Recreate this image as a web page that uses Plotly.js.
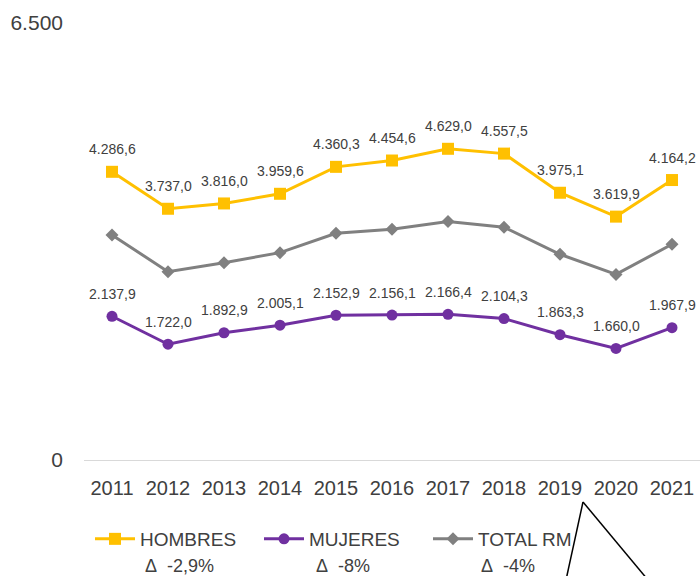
<!DOCTYPE html>
<html>
<head>
<meta charset="utf-8">
<script src="https://cdn.plot.ly/plotly-3.0.1.min.js"></script>
<style>html,body{margin:0;padding:0;background:#fff;}#chart{width:700px;height:576px;}</style>
</head>
<body>
<div id="chart"></div>
<script>
const years = ['2011','2012','2013','2014','2015','2016','2017','2018','2019','2020','2021'];
const hombres = [4286.6, 3737.0, 3816.0, 3959.6, 4360.3, 4454.6, 4629.0, 4557.5, 3975.1, 3619.9, 4164.2];
const mujeres = [2137.9, 1722.0, 1892.9, 2005.1, 2152.9, 2156.1, 2166.4, 2104.3, 1863.3, 1660.0, 1967.9];
const totalRM = [3348, 2800, 2934, 3084, 3373, 3433, 3546, 3463, 3060, 2761, 3209];
const seriesNames = ['HOMBRES', 'MUJERES', 'TOTAL RM'];
const deltaLabels = ['Δ\u00a0\u00a0-2,9%', 'Δ\u00a0\u00a0-8%', 'Δ\u00a0\u00a0-4%'];
const yTicks = [0, 6500];

const FONT = 'Liberation Sans, Arial, sans-serif';
const TXT = '#404040';

function fmt(v){
  const s = v.toFixed(1).split('.');
  return s[0].replace(/\B(?=(\d{3})+(?!\d))/g, '.') + ',' + s[1];
}

const traces = [
  {x: years, y: hombres, name: seriesNames[0], type: 'scatter', mode: 'lines+markers',
   line: {color: '#FFC000', width: 3}, marker: {symbol: 'square', size: 12, color: '#FFC000'}},
  {x: years, y: mujeres, name: seriesNames[1], type: 'scatter', mode: 'lines+markers',
   line: {color: '#7030A0', width: 3}, marker: {symbol: 'circle', size: 11, color: '#7030A0'}},
  {x: years, y: totalRM, name: seriesNames[2], type: 'scatter', mode: 'lines+markers',
   line: {color: '#808080', width: 3}, marker: {symbol: 'diamond', size: 10, color: '#808080'}}
];

const annotations = [];
[hombres, mujeres].forEach(arr => {
  arr.forEach((v, i) => {
    annotations.push({x: i, y: v, xref: 'x', yref: 'y', text: fmt(v), showarrow: false,
      yshift: 22.5, font: {family: FONT, size: 14, color: TXT}});
  });
});
const deltaX = [143, 314, 479];
deltaLabels.forEach((t, i) => {
  annotations.push({xref: 'paper', yref: 'paper', x: (deltaX[i] - 84) / 616, y: (460 - 566) / 437,
    xanchor: 'left', yanchor: 'middle', text: t, showarrow: false,
    font: {family: FONT, size: 18, color: TXT}});
});

const layout = {
  width: 700, height: 576,
  margin: {l: 84, r: 0, t: 23, b: 116},
  paper_bgcolor: '#fff', plot_bgcolor: '#fff',
  separators: ',.',
  showlegend: true,
  font: {family: FONT, color: TXT},
  xaxis: {type: 'category', range: [-0.5, 10.5], showgrid: false, zeroline: false, showline: false,
    ticks: '', ticklabelstandoff: 14, tickfont: {family: FONT, size: 20, color: TXT}, fixedrange: true},
  yaxis: {range: [0, 6500], tickvals: yTicks, tickformat: ',d', showgrid: false, zeroline: true,
    zerolinecolor: '#d9d9d9', zerolinewidth: 1, showline: false, ticks: '', ticklabelstandoff: 20,
    tickfont: {family: FONT, size: 21, color: TXT}, fixedrange: true},
  legend: {orientation: 'h', xref: 'container', yref: 'container', x: 90/700, y: 1 - 520/576,
    xanchor: 'left', yanchor: 'top', itemwidth: 40, entrywidth: 114, entrywidthmode: 'pixels',
    font: {family: FONT, size: 19, color: TXT}, bgcolor: 'rgba(0,0,0,0)'},
  annotations: annotations,
  shapes: [
    {type: 'line', xref: 'paper', yref: 'paper', x0: (583-84)/616, y0: (460-502)/437, x1: (566-84)/616, y1: (460-580)/437,
     line: {color: '#000', width: 1.5}},
    {type: 'line', xref: 'paper', yref: 'paper', x0: (583-84)/616, y0: (460-502)/437, x1: (648-84)/616, y1: (460-580)/437,
     line: {color: '#000', width: 1.5}}
  ]
};

Plotly.newPlot('chart', traces, layout, {displayModeBar: false, staticPlot: true});
</script>
</body>
</html>
